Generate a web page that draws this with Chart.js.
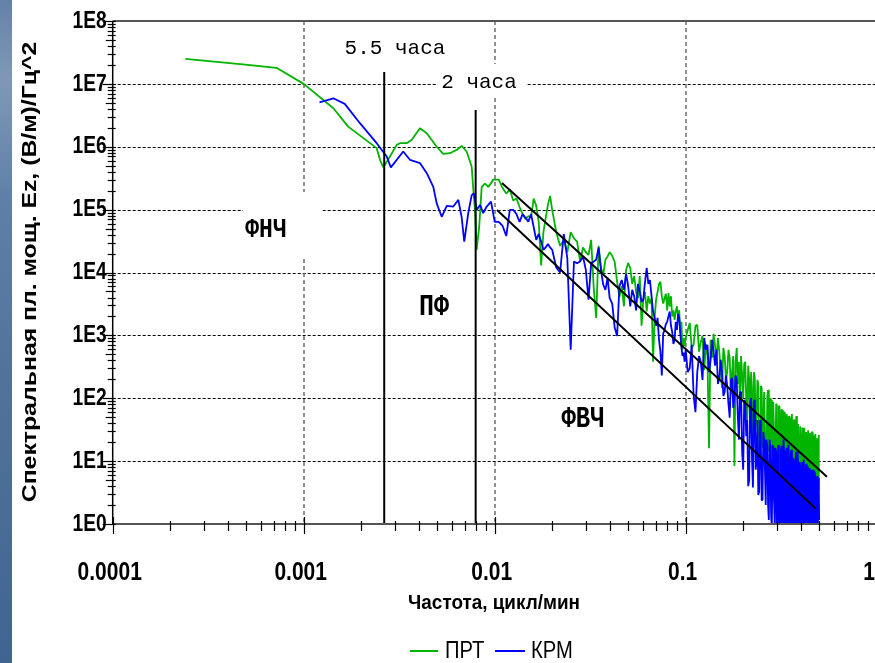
<!DOCTYPE html>
<html>
<head>
<meta charset="utf-8">
<script src="https://cdn.jsdelivr.net/npm/chart.js@4.4.0/dist/chart.umd.min.js"></script>
<style>
  html, body { margin: 0; padding: 0; background: #fff; }
  #wrap { width: 875px; height: 663px; }
</style>
</head>
<body>
<div id="wrap"><canvas id="psdChart" width="875" height="663"></canvas></div>
<script>
// ПРТ, low and mid frequencies (цикл/мин) and spectral density
const prtFreq = [2.4e-4, 4.8e-4, 7.2e-4, 1.0e-3, 1.43e-3, 1.71e-3, 2.41e-3, 2.51e-3, 2.61e-3, 2.83e-3,
  3.07e-3, 3.19e-3, 3.46e-3, 3.67e-3, 4.06e-3, 4.41e-3, 4.97e-3, 5.38e-3, 5.83e-3, 6.32e-3,
  6.71e-3, 7.13e-3, 7.58e-3, 7.73e-3, 7.89e-3, 8.05e-3, 8.30e-3, 8.55e-3, 8.90e-3, 9.27e-3, 9.84e-3];
const prtPsd = [2.5e7, 2.05e7, 1.8e7, 1.0e7, 4.1e6, 2.09e6, 9.5e5, 6.2e5, 4.7e5, 7.0e5,
  1.07e6, 1.14e6, 1.14e6, 1.28e6, 1.97e6, 1.64e6, 1.0e6, 7.7e5, 7.9e5, 8.9e5,
  1.03e6, 8.4e5, 4.8e5, 2.06e5, 9.9e4, 2.3e4, 5.4e4, 2.3e5, 2.6e5, 2.3e5, 3.0e5];

// КРМ, low and mid frequencies
const krmFreq = [1.21e-3, 1.43e-3, 1.64e-3, 1.97e-3, 2.41e-3, 2.72e-3, 2.86e-3, 3.32e-3, 3.60e-3, 4.06e-3,
  4.41e-3, 4.77e-3, 4.97e-3, 5.28e-3, 5.61e-3, 6.07e-3, 6.45e-3, 6.71e-3, 6.93e-3, 7.27e-3,
  7.58e-3, 7.79e-3, 8.05e-3, 8.38e-3, 8.71e-3, 9.08e-3, 9.57e-3];
const krmPsd = [5.1e6, 5.9e6, 4.8e6, 2.37e6, 1.14e6, 7.0e5, 4.7e5, 8.4e5, 6.2e5, 5.5e5,
  3.8e5, 2.3e5, 1.26e5, 7.7e4, 1.15e5, 1.12e5, 1.43e5, 7.7e4, 3.1e4, 8.8e4,
  1.7e5, 1.82e5, 9.9e4, 1.19e5, 8.8e4, 1.12e5, 1.34e5];

// high-frequency band, common frequency grid for both records
const hfFreq = [
  0.0100, 0.0105, 0.0110, 0.0115, 0.0120, 0.0125, 0.0130, 0.0135, 0.0140, 0.0145,
  0.0150, 0.0155, 0.0160, 0.0165, 0.0170, 0.0175, 0.0180, 0.0185, 0.0190, 0.0195, 0.0200,
  0.021, 0.022, 0.023, 0.024, 0.025, 0.026, 0.027, 0.028, 0.029, 0.030,
  0.031, 0.032, 0.033, 0.034, 0.035, 0.036, 0.037, 0.038, 0.039, 0.040,
  0.04125, 0.0425, 0.04375, 0.045, 0.04625, 0.0475, 0.04875, 0.050, 0.05125, 0.0525,
  0.05375, 0.055, 0.05625, 0.0575, 0.05875, 0.060, 0.06125, 0.0625, 0.06375, 0.065,
  0.06625, 0.0675, 0.06875, 0.070, 0.07125, 0.0725, 0.07375, 0.075, 0.07625, 0.0775,
  0.07875, 0.080, 0.08125, 0.0825, 0.08375, 0.085, 0.08625, 0.0875, 0.08875, 0.090,
  0.09125, 0.0925, 0.09375, 0.095, 0.09625, 0.0975, 0.09875,
  0.1000, 0.1025, 0.1050, 0.1075, 0.1100, 0.1125, 0.1150, 0.1175, 0.1200, 0.1225,
  0.1250, 0.1275, 0.1300, 0.1325, 0.1350, 0.1375, 0.1400, 0.1425, 0.1450, 0.1475,
  0.1500, 0.1525, 0.1550, 0.1575, 0.1600, 0.1625, 0.1650, 0.1675, 0.1700, 0.1725,
  0.1750, 0.1775, 0.1800, 0.1825, 0.1850, 0.1875, 0.1900, 0.1925, 0.1950, 0.1975,
  0.2000, 0.2025, 0.2050, 0.2075, 0.2100, 0.2125, 0.2150, 0.2175, 0.2200, 0.2225,
  0.2250, 0.2275, 0.2300, 0.2325, 0.2350, 0.2375, 0.2400, 0.2425, 0.2450, 0.2475,
  0.2500, 0.2525, 0.2550, 0.2575, 0.2600, 0.2625, 0.2650, 0.2675, 0.2700, 0.2725,
  0.2750, 0.2775, 0.2800, 0.2825, 0.2850, 0.2875, 0.2900, 0.2925, 0.2950, 0.2975,
  0.3000, 0.3025, 0.3050, 0.3075, 0.3100, 0.3125, 0.3150, 0.3175, 0.3200, 0.3225,
  0.3250, 0.3275, 0.3300, 0.3325, 0.3350, 0.3375, 0.3400, 0.3425, 0.3450, 0.3475,
  0.3500, 0.3525, 0.3550, 0.3575, 0.3600, 0.3625, 0.3650, 0.3675, 0.3700, 0.3725,
  0.3750, 0.3775, 0.3800, 0.3825, 0.3850, 0.3875, 0.3900, 0.3925, 0.3950, 0.3975,
  0.4000, 0.4025, 0.4050, 0.4075, 0.4100, 0.4125, 0.4150, 0.4175, 0.4200, 0.4225,
  0.4250, 0.4275, 0.4300, 0.4325, 0.4350, 0.4375, 0.4400, 0.4425, 0.4450, 0.4475,
  0.4500, 0.4525, 0.4550, 0.4575, 0.4600, 0.4625, 0.4650, 0.4675, 0.4700, 0.4725,
  0.4750, 0.4775, 0.4800, 0.4825, 0.4850, 0.4875, 0.4900, 0.4925, 0.4950, 0.4975,
  0.5000];

const prtHf = [
  3.0e5, 3.0e5, 2.2e5, 1.8e5, 2.1e5, 1.4e5, 1.5e5, 1.1e5, 8.5e4, 7.1e4,
  7.9e4, 7.4e4, 1.5e5, 1.15e5, 6.4e4, 1.3e4, 4.4e4, 7.4e4, 1.2e5, 1.65e5, 9.9e4,
  4.4e4, 2.65e4, 3.3e4, 2.1e4, 4.4e4, 3.5e4, 3.1e4, 1.5e4, 2.5e4, 2.1e4,
  1.9e4, 3.3e4, 5.7e3, 1.9e3, 2.65e4, 1.2e4, 9.2e3, 1.6e4, 1.8e4, 2.1e4,
  1.84e4, 1.47e4, 7.1e3, 4.1e3, 6.1e3, 2.9e3, 1.1e4, 1.42e4, 1.18e4, 6.6e3,
  8.8e3, 4.9e3, 3.9e3, 8.8e3, 1.42e3, 3.7e3, 4.9e3, 2.4e3, 4.2e3, 3.2e3,
  3.9e3, 380, 1.9e3, 3.7e3, 4.9e3, 6.6e3, 7.1e3, 4.2e3, 3.2e3, 3.9e3,
  4.6e3, 2.5e3, 4.7e3, 2.9e3, 4.2e3, 2.0e3, 2.5e3, 1.76e3, 2.4e3, 2.9e3,
  2.0e3, 2.5e3, 1.06e3, 1.64e3, 590, 910, 680,
  910, 1.22e3, 1.58e3, 630, 710, 1.42e3, 1.47e3, 550, 790, 980,
  280, 730, 470, 16, 850, 440, 1.06e3, 680, 410, 910,
  550, 260, 146, 630, 470, 196, 260, 590, 440, 117,
  260, 470, 8.4, 380, 630, 169, 380, 65, 470, 230,
  101, 350, 380, 94, 45, 330, 196, 31, 260, 109,
  22, 260, 210, 34, 49, 196, 169, 14.1, 17.5, 157,
  146, 16.3, 31, 126, 126, 7.3, 10.5, 109, 136, 14.1,
  22, 101, 94, 6.3, 12.6, 88, 88, 9.7, 7.8, 81,
  79, 5.8, 15.1, 76, 73, 6.8, 7.3, 65, 65, 5.0,
  9.7, 61, 56, 5.4, 6.8, 56, 49, 4.4, 8.4, 52,
  49, 5.0, 5.8, 49, 56, 4.0, 7.3, 45, 45, 4.7,
  5.4, 42, 52, 3.8, 6.8, 39, 39, 4.4, 5.0, 36,
  36, 4.0, 6.3, 34, 31, 3.8, 4.7, 34, 34, 4.4,
  5.4, 29, 29, 3.5, 4.2, 31, 31, 4.0, 5.0, 27,
  27, 3.8, 4.0, 29, 29, 3.5, 4.7, 25, 25, 3.5,
  3.8, 27, 27, 3.3, 4.4, 23, 23, 3.5, 3.5, 25,
  26];

const krmHf = [
  6.4e4, 6.4e4, 5.5e4, 3.8e4, 9.9e4, 9.9e4, 8.5e4, 6.4e4, 8.5e4, 7.4e4,
  6.4e4, 8.5e4, 5.3e4, 3.3e4, 4.1e4, 3.1e4, 2.3e4, 2.5e4, 2.85e4, 2.5e4, 2.3e4,
  1.2e4, 1.0e4, 4.1e4, 1.7e4, 590, 1.5e4, 1.4e4, 1.5e4, 1.8e4, 1.1e4,
  3.7e3, 1.4e4, 1.5e4, 1.6e4, 2.5e4, 1.1e4, 6.4e3, 5.3e3, 8.2e3, 3.9e3,
  3.2e3, 1.32e3, 980, 6.1e3, 7.6e3, 5.3e3, 9.5e3, 6.1e3, 2.9e3, 5.3e3,
  4.2e3, 2.5e3, 6.6e3, 4.9e3, 3.4e3, 3.7e3, 7.1e3, 1.18e4, 6.6e3, 7.6e3,
  4.2e3, 2.4e3, 1.9e3, 1.42e3, 1.9e3, 850, 550, 230, 1.06e3, 1.22e3,
  1.52e3, 1.64e3, 2.0e3, 2.4e3, 1.42e3, 1.14e3, 730, 850, 1.64e3, 1.22e3,
  2.2e3, 1.9e3, 1.06e3, 630, 470, 530, 380,
  590, 260, 300, 710, 113, 60, 260, 470, 380, 196,
  910, 590, 710, 260, 410, 850, 550, 330, 590, 169,
  210, 410, 260, 109, 126, 230, 157, 81, 49, 196,
  210, 70, 101, 230, 196, 52, 22, 126, 126, 14.1,
  7.3, 94, 88, 25, 45, 4.0, 5.0, 81, 101, 10.5,
  3.8, 88, 94, 7.3, 9.7, 45, 2.9, 3.3, 45, 22,
  2.4, 2.4, 29, 22, 7.3, 2.0, 22, 17.5, 2.0, 1.16,
  22, 17.5, 1.4, 0.81, 18, 16.3, 2.4, 0.97, 16.3, 14.1,
  0.81, 0.56, 18, 14.1, 0.56, 0.42, 15.1, 17.5, 0.67, 0.39,
  22, 14.1, 0.47, 0.39, 14.1, 16.3, 0.56, 0.31, 18, 12.1,
  0.39, 0.36, 12.6, 15.1, 0.47, 0.31, 11.3, 9.7, 0.39, 0.31,
  10.5, 14.1, 0.42, 0.31, 14.1, 9.7, 0.36, 0.31, 9.7, 8.4,
  0.47, 0.31, 7.8, 9.7, 0.36, 0.31, 10.5, 7.3, 0.39, 0.31,
  7.3, 9.1, 0.32, 0.31, 8.4, 6.8, 0.36, 0.31, 6.3, 7.8,
  0.32, 0.31, 7.3, 5.8, 0.36, 0.31, 5.4, 7.3, 0.31, 0.31,
  6.8, 5.0, 0.34, 0.31, 5.0, 5.8, 0.31, 0.31, 5.4, 4.4,
  1.16];

// period markers (5.5 и 2 часа) and the two sloped guide lines
const markerFreq = [0.00264, 0.00795];
const markerTop = [1.55e7, 3.85e6];
const guideFreq = [[0.01092, 0.549], [0.01028, 0.481]];
const guidePsd = [[2.66e5, 5.63], [9.9e4, 1.74]];

const xTickValues = [0.0001, 0.001, 0.01, 0.1, 1];
const xTickLabels = ['0.0001', '0.001', '0.01', '0.1', '1'];
const yTickExp = [0, 1, 2, 3, 4, 5, 6, 7, 8];
const seriesNames = ['ПРТ', 'КРМ'];
const seriesColors = ['#00b400', '#0000ff'];

const sans = '"Liberation Sans", Arial, sans-serif';
const mono = '"Liberation Mono", "Courier New", monospace';

function points(fx, fy) {
  return fx.map((f, i) => ({ x: f, y: fy[i] }));
}

const datasets = [
  {
    label: seriesNames[0],
    data: points(prtFreq, prtPsd).concat(points(hfFreq, prtHf)),
    borderColor: seriesColors[0], borderWidth: 1.8, order: 2
  },
  {
    label: seriesNames[1],
    data: points(krmFreq, krmPsd).concat(points(hfFreq, krmHf)),
    borderColor: seriesColors[1], borderWidth: 1.8, order: 1
  }
];
markerFreq.forEach((f, i) => datasets.push({
  label: 'marker',
  data: [{ x: f, y: markerTop[i] }, { x: f, y: 1 }],
  borderColor: '#000', borderWidth: 2, order: 0
}));
guideFreq.forEach((f, i) => datasets.push({
  label: 'guide',
  data: [{ x: f[0], y: guidePsd[i][0] }, { x: f[1], y: guidePsd[i][1] }],
  borderColor: '#000', borderWidth: 2, order: 0
}));
datasets.forEach(d => {
  d.showLine = true;
  d.pointRadius = 0;
  d.tension = 0;
  d.borderJoinStyle = 'bevel';
  d.fill = false;
});

function line(ctx, x1, y1, x2, y2) {
  ctx.beginPath();
  ctx.moveTo(x1, y1);
  ctx.lineTo(x2, y2);
  ctx.stroke();
}

// text with its own horizontal / vertical scale factors
function scaledText(ctx, text, x, y, font, sx, sy, align) {
  ctx.save();
  ctx.translate(x, y);
  ctx.scale(sx, sy);
  ctx.font = font;
  ctx.textAlign = align || 'center';
  ctx.textBaseline = 'middle';
  ctx.fillStyle = '#000';
  ctx.fillText(text, 0, 0);
  ctx.restore();
}

const decor = {
  id: 'decor',
  beforeDraw(chart) {
    const ctx = chart.ctx;
    ctx.save();
    ctx.fillStyle = '#fff';
    ctx.fillRect(0, 0, chart.width, chart.height);
    // textured blue strip on the left edge
    const g = ctx.createLinearGradient(0, 0, 0, chart.height);
    g.addColorStop(0, '#6482a6');
    g.addColorStop(0.12, '#7f98b6');
    g.addColorStop(0.3, '#5f80a6');
    g.addColorStop(0.55, '#52739b');
    g.addColorStop(0.8, '#486c96');
    g.addColorStop(1, '#3f648f');
    ctx.fillStyle = g;
    ctx.fillRect(0, 0, 12, chart.height);
    ctx.restore();
  },
  beforeDatasetsDraw(chart) {
    const ctx = chart.ctx;
    const { left, right, top, bottom } = chart.chartArea;
    const xs = chart.scales.x, ys = chart.scales.y;
    ctx.save();
    // horizontal grid: black dotted
    ctx.strokeStyle = '#000';
    ctx.lineWidth = 1;
    ctx.setLineDash([3, 2]);
    for (let e = 1; e <= 7; e++) {
      const y = Math.round(ys.getPixelForValue(Math.pow(10, e))) + 0.5;
      line(ctx, left, y, right, y);
    }
    // vertical grid: grey dashed
    ctx.strokeStyle = '#6e6e6e';
    ctx.lineWidth = 1.5;
    ctx.setLineDash([4, 3]);
    [0.001, 0.01, 0.1].forEach(v => {
      const x = Math.round(xs.getPixelForValue(v));
      line(ctx, x, top, x, bottom);
    });
    ctx.setLineDash([]);

    // white label boxes
    ctx.fillStyle = '#fff';
    ctx.fillRect(243, 192, 79, 66);
    ctx.fillRect(436, 64, 90, 34);

    // period captions
    ctx.fillStyle = '#000';
    ctx.font = '21px ' + mono;
    ctx.textAlign = 'center';
    ctx.textBaseline = 'alphabetic';
    ctx.fillText('5.5 часа', 395, 54);
    ctx.fillText('2 часа', 479, 88);

    // band labels
    scaledText(ctx, 'ФНЧ', 266, 230, 'bold 23px ' + mono, 1, 1.2);
    scaledText(ctx, 'ПФ', 434, 307, 'bold 25px ' + mono, 1, 1.2);
    scaledText(ctx, 'ФВЧ', 583, 420, 'bold 24px ' + mono, 1, 1.2);
    ctx.restore();
  },
  afterDatasetsDraw(chart) {
    const ctx = chart.ctx;
    const { left, right, top, bottom } = chart.chartArea;
    const xs = chart.scales.x, ys = chart.scales.y;
    ctx.save();
    // frame
    ctx.strokeStyle = '#555';
    ctx.lineWidth = 2;
    line(ctx, left, top, right, top);
    line(ctx, left, bottom, right, bottom);
    ctx.strokeStyle = '#000';
    ctx.lineWidth = 1.5;
    line(ctx, left, top, left, bottom);

    // y ticks
    ctx.lineWidth = 1.2;
    for (let e = 0; e <= 8; e++) {
      const y = Math.round(ys.getPixelForValue(Math.pow(10, e))) + 0.5;
      line(ctx, left - 10, y, left + 3, y);
      if (e === 8) continue;
      for (let m = 2; m <= 9; m++) {
        const ym = Math.round(ys.getPixelForValue(m * Math.pow(10, e))) + 0.5;
        line(ctx, left - (m === 5 ? 7 : 5), ym, left + 3, ym);
      }
    }
    // x ticks
    for (let e = -4; e <= 0; e++) {
      const x = Math.round(xs.getPixelForValue(Math.pow(10, e))) + 0.5;
      if (x <= right) line(ctx, x, bottom - 7, x, bottom + 10);
      for (let m = 2; m <= 9; m++) {
        const xm = Math.round(xs.getPixelForValue(m * Math.pow(10, e))) + 0.5;
        if (xm <= right) line(ctx, xm, bottom - 3, xm, bottom + 7);
      }
    }
    ctx.restore();
  },
  afterDraw(chart) {
    const ctx = chart.ctx;
    const xs = chart.scales.x, ys = chart.scales.y;
    const { left, bottom } = chart.chartArea;
    ctx.save();
    // tick labels, bold and narrow
    xTickValues.forEach((v, i) => {
      const x = Math.min(xs.getPixelForValue(v) - 3, 869);
      scaledText(ctx, xTickLabels[i], x, bottom + 49, 'bold 25px ' + sans, 0.84, 1);
    });
    yTickExp.forEach(e => {
      const y = ys.getPixelForValue(Math.pow(10, e));
      scaledText(ctx, '1E' + e, left - 6, y, 'bold 24px ' + sans, 0.8, 1, 'right');
    });

    // axis titles
    scaledText(ctx, 'Частота, цикл/мин', 494, 603, 'bold 21px ' + sans, 0.9, 1);
    ctx.save();
    ctx.translate(30, 272);
    ctx.rotate(-Math.PI / 2);
    scaledText(ctx, 'Спектральная пл. мощ. Ez, (В/м)/Гц^2', 0, 0, 'bold 20px ' + sans, 1.24, 1);
    ctx.restore();

    // legend
    ctx.lineWidth = 2;
    ctx.strokeStyle = seriesColors[0];
    line(ctx, 410, 651, 438, 651);
    ctx.strokeStyle = seriesColors[1];
    line(ctx, 495, 651, 525, 651);
    scaledText(ctx, seriesNames[0], 445, 651, '24px ' + sans, 0.84, 1, 'left');
    scaledText(ctx, seriesNames[1], 531, 651, '24px ' + sans, 0.84, 1, 'left');
    ctx.restore();
  }
};

new Chart(document.getElementById('psdChart'), {
  type: 'scatter',
  data: { datasets },
  options: {
    responsive: false,
    animation: false,
    events: [],
    layout: { padding: { left: 0, right: 0, top: 21, bottom: 0 } },
    plugins: { legend: { display: false }, tooltip: { enabled: false } },
    scales: {
      x: {
        type: 'logarithmic',
        min: 0.0001,
        max: 0.98,
        grid: { display: false, drawTicks: false },
        border: { display: false },
        ticks: { display: false },
        afterFit(scale) {
          scale.height = 139;
          scale.paddingLeft = 0;
          scale.paddingRight = 0;
        }
      },
      y: {
        type: 'logarithmic',
        min: 1,
        max: 1e8,
        grid: { display: false, drawTicks: false },
        border: { display: false },
        ticks: { display: false },
        afterFit(scale) {
          scale.width = 112.7;
          scale.paddingTop = 0;
          scale.paddingBottom = 0;
        }
      }
    }
  },
  plugins: [decor]
});
</script>
</body>
</html>
